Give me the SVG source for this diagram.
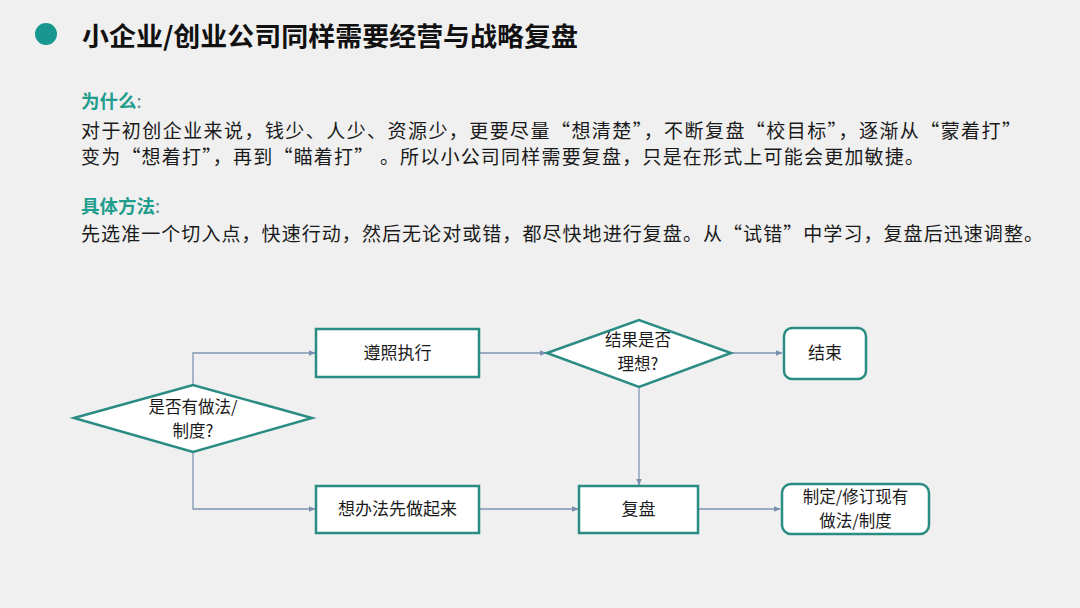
<svg xmlns="http://www.w3.org/2000/svg" width="1080" height="608" viewBox="0 0 1080 608">
<defs>
<style>
.cjk{font-family:"Noto Sans CJK SC","Liberation Sans",sans-serif;}
.body{font-size:19px;fill:#1a1a1a;}
.head{font-size:18.5px;font-weight:bold;fill:#1f9d8d;}
.node{fill:#ffffff;stroke:#2a8c82;stroke-width:2.5;}
.lbl{font-size:17px;fill:#1a1a1a;text-anchor:middle;}
.lbl2{font-size:16.5px;fill:#1a1a1a;text-anchor:middle;}
.conn{fill:none;stroke:#8096b3;stroke-width:1.3;}
</style>
<marker id="arr" viewBox="0 0 10 10" refX="9" refY="5" markerWidth="7" markerHeight="7" orient="auto" markerUnits="userSpaceOnUse">
<path d="M0,1 L10,5 L0,9 z" fill="#7a90b0"/>
</marker>
</defs>
<rect x="0" y="0" width="1080" height="608" fill="#f0f0f0"/>

<g id="title">
<circle cx="46" cy="34" r="11" fill="#1a9690"/>
<text class="cjk" x="82" y="46" font-size="26" font-weight="bold" fill="#111" textLength="496" lengthAdjust="spacingAndGlyphs">小企业/创业公司同样需要经营与战略复盘</text>
</g>

<g id="why">
<text class="cjk head" x="81" y="108">为什么<tspan font-weight="normal" fill="#6a8a88">:</tspan></text>
<text class="cjk body" x="81" y="138" textLength="940" lengthAdjust="spacing">对于初创企业来说，钱少、人少、资源少，更要尽量“想清楚”，不断复盘“校目标”，逐渐从“蒙着打”</text>
<text class="cjk body" x="81" y="164" textLength="843" lengthAdjust="spacing">变为“想着打”，再到“瞄着打” 。所以小公司同样需要复盘，只是在形式上可能会更加敏捷。</text>
</g>

<g id="method">
<text class="cjk head" x="81" y="213">具体方法<tspan font-weight="normal" fill="#6a8a88">:</tspan></text>
<text class="cjk body" x="81" y="241" textLength="962" lengthAdjust="spacing">先选准一个切入点，快速行动，然后无论对或错，都尽快地进行复盘。从“试错”中学习，复盘后迅速调整。</text>
</g>

<g id="connectors">
<path class="conn" d="M193,385 V353 H315" marker-end="url(#arr)"/>
<path class="conn" d="M193,452 V509 H315" marker-end="url(#arr)"/>
<path class="conn" d="M479,353 H546" marker-end="url(#arr)"/>
<path class="conn" d="M731,353 H782" marker-end="url(#arr)"/>
<path class="conn" d="M639,387 V485" marker-end="url(#arr)"/>
<path class="conn" d="M479,509 H578" marker-end="url(#arr)"/>
<path class="conn" d="M698,509 H780" marker-end="url(#arr)"/>
</g>

<g id="n-decision1">
<polygon class="node" points="74,418 193,385 312,418 193,452"/>
<text class="cjk lbl2" x="193" y="413">是否有做法/</text>
<text class="cjk lbl2" x="193" y="437">制度?</text>
</g>

<g id="n-follow">
<rect class="node" x="316" y="329" width="163" height="48"/>
<text class="cjk lbl" x="397.5" y="359">遵照执行</text>
</g>

<g id="n-try">
<rect class="node" x="316" y="486" width="163" height="47"/>
<text class="cjk lbl" x="397.5" y="515">想办法先做起来</text>
</g>

<g id="n-decision2">
<polygon class="node" points="547,353 639,320 731,353 639,387"/>
<text class="cjk lbl2" x="638" y="346">结果是否</text>
<text class="cjk lbl2" x="638" y="370">理想?</text>
</g>

<g id="n-end">
<rect class="node" x="784" y="328" width="82" height="51" rx="8"/>
<text class="cjk lbl" x="825" y="359">结束</text>
</g>

<g id="n-review">
<rect class="node" x="579" y="486" width="119" height="47"/>
<text class="cjk lbl" x="638.5" y="515">复盘</text>
</g>

<g id="n-revise">
<rect class="node" x="782" y="484" width="147" height="50" rx="9"/>
<text class="cjk lbl2" x="855.5" y="503">制定/修订现有</text>
<text class="cjk lbl2" x="855.5" y="527">做法/制度</text>
</g>
</svg>
